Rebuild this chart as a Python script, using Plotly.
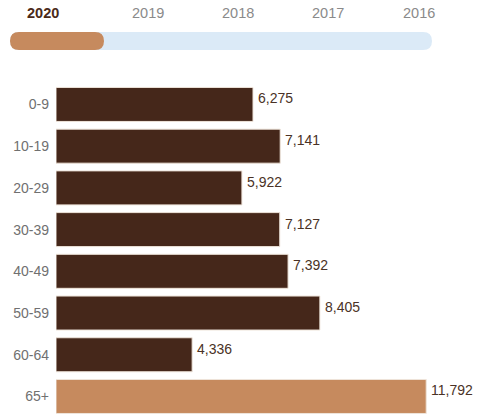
import plotly.graph_objects as go

# Population by age group, 2020
age_groups = ["0-9", "10-19", "20-29", "30-39", "40-49", "50-59", "60-64", "65+"]
population = [6275, 7141, 5922, 7127, 7392, 8405, 4336, 11792]
years = ["2020", "2019", "2018", "2017", "2016"]
selected_year = "2020"

DARK = "#45271a"
ACCENT = "#c68a5e"
TRACK = "#dbeaf7"
LABEL = "#4a3226"

W, H = 479, 414
M_L, M_R, M_T, M_B = 56, 5, 84, 0
PW, PH = W - M_L - M_R, H - M_T - M_B


def px_x(px):
    return (px - M_L) / PW


def px_y(py):
    return 1 - (py - M_T) / PH


colors = [ACCENT if g == "65+" else DARK for g in age_groups]

fig = go.Figure(
    go.Bar(
        x=population,
        y=age_groups,
        orientation="h",
        marker=dict(color=colors, line=dict(color="#eee4da", width=1)),
        hoverinfo="skip",
    )
)

# value labels at the end of each bar
annotations = []
for g, v in zip(age_groups, population):
    annotations.append(
        dict(
            x=v, y=g, xref="x", yref="y", text=f"{v:,}", showarrow=False,
            xanchor="left", yanchor="middle", xshift=3, yshift=6,
            font=dict(family="Liberation Sans, Arial", size=14, color=LABEL),
        )
    )

# year selector labels
year_px = [43, 148, 238, 328, 419]
for yr, xp in zip(years, year_px):
    sel = yr == selected_year
    annotations.append(
        dict(
            x=px_x(xp), y=px_y(13), xref="paper", yref="paper", text=f"<b>{yr}</b>" if sel else yr,
            showarrow=False, xanchor="center", yanchor="middle",
            font=dict(family="Liberation Sans, Arial", size=14.5,
                      color="#4a2a18" if sel else "#8a8a8a"),
        )
    )


def rounded_rect(x0, y0, x1, y1, r):
    # rounded rectangle given in pixels, converted to paper coordinates
    def P(x, y):
        return f"{px_x(x):.5f},{px_y(y):.5f}"
    return (
        f"M {P(x0 + r, y0)} L {P(x1 - r, y0)} "
        f"Q {P(x1, y0)} {P(x1, y0 + r)} L {P(x1, y1 - r)} "
        f"Q {P(x1, y1)} {P(x1 - r, y1)} L {P(x0 + r, y1)} "
        f"Q {P(x0, y1)} {P(x0, y1 - r)} L {P(x0, y0 + r)} "
        f"Q {P(x0, y0)} {P(x0 + r, y0)} Z"
    )


shapes = [
    dict(type="path", xref="paper", yref="paper", path=rounded_rect(10, 32, 432, 50, 9),
         fillcolor=TRACK, line=dict(width=0), layer="above"),
    dict(type="path", xref="paper", yref="paper", path=rounded_rect(10, 32, 104, 50, 9),
         fillcolor=ACCENT, line=dict(width=0), layer="above"),
]

fig.update_layout(
    width=W, height=H,
    margin=dict(l=M_L, r=M_R, t=M_T, b=M_B, pad=0),
    paper_bgcolor="white", plot_bgcolor="white",
    bargap=0.185,
    showlegend=False,
    annotations=annotations,
    shapes=shapes,
    xaxis=dict(range=[0, PW / ((253 - 56) / 6275)], visible=False, fixedrange=True),
    yaxis=dict(
        range=[7.42, -0.49], showgrid=False, zeroline=False, showline=False,
        ticks="", ticklabelstandoff=6,
        tickfont=dict(family="Liberation Sans, Arial", size=14, color="#707070"),
        fixedrange=True,
    ),
)

fig.write_html("out.html", config={"displayModeBar": False})
